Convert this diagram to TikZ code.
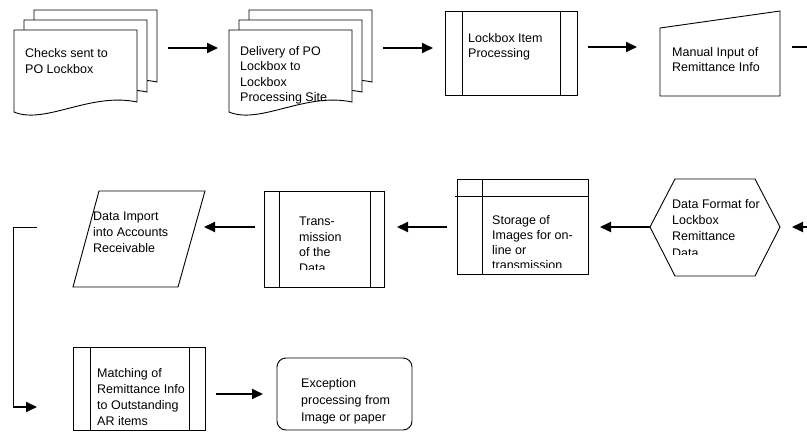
\documentclass[tikz,border=0pt]{standalone}
\usepackage{fontspec}
\setmainfont{Liberation Sans}
\usetikzlibrary{arrows.meta}
\begin{document}
\begin{tikzpicture}[x=1pt,y=-1pt,
  shp/.style={draw=black, line width=0.9pt, fill=white, line join=miter},
  bar/.style={draw=black, line width=0.9pt},
  lbl/.style={anchor=north west, inner sep=0pt, align=left, font=\fontsize{12.5}{16}\selectfont},
  arr/.style={line width=1.8pt, -{Triangle[length=11pt,width=10pt]}},
  thickln/.style={line width=1.8pt},
  thinln/.style={line width=0.9pt}]
\useasboundingbox (0,0) rectangle (807,432);

% ---- row 1 ----
% multi-document 1
\foreach \o in {20,10,0}{
  \draw[shp, shift={(\o,-\o)}] (14,30) -- (137,30) -- (137,102)
    .. controls (90,92) and (45,125) .. (14,112) -- cycle;
}
\node[lbl] (t1) at (25,48) {Checks sent to\\PO Lockbox};

% multi-document 2
\foreach \o in {20,10,0}{
  \draw[shp, shift={(215+\o,-\o)}] (14,30) -- (137,30) -- (137,102)
    .. controls (90,92) and (45,125) .. (14,112) -- cycle;
}
\node[lbl, font=\fontsize{12.5}{15.5}\selectfont] (t2) at (240,46) {Delivery of PO\\Lockbox to\\Lockbox\\Processing Site};

% predefined process
\draw[shp] (445,11) rectangle (577,95);
\draw[bar] (462,11) -- (462,95);
\draw[bar] (560,11) -- (560,95);
\node[lbl, font=\fontsize{12.5}{15}\selectfont] (t3) at (468,33) {Lockbox Item\\Processing};

% manual input
\draw[shp] (660,28) -- (780,11) -- (780,96) -- (660,96) -- cycle;
\node[lbl, font=\fontsize{12.5}{15}\selectfont] (t4) at (672,47) {Manual Input of\\Remittance Info};

% ---- row 2 ----
% hexagon
\draw[shp] (650,227) -- (675,179) -- (755,179) -- (780,227) -- (755,276) -- (675,276) -- cycle;
\begin{scope}
  \clip (660,180) rectangle (790,254);
  \node[lbl, font=\fontsize{12.5}{16.3}\selectfont] (t5) at (672,199) {Data Format for\\Lockbox\\Remittance\\Data};
\end{scope}

% internal storage
\draw[shp] (457,179) rectangle (588,274);
\draw[bar] (455,196) -- (588,196);
\draw[bar] (482,179) -- (482,274);
\begin{scope}
  \clip (485,200) rectangle (587,267);
  \node[lbl, font=\fontsize{12.5}{15.2}\selectfont] (t6) at (492,215) {Storage of\\Images for on-\\line or\\transmission};
\end{scope}

% transmission
\draw[shp] (264,191) rectangle (384,287);
\draw[bar] (279,191) -- (279,287);
\draw[bar] (370,191) -- (370,287);
\begin{scope}
  \clip (282,200) rectangle (368,269);
  \node[lbl, font=\fontsize{12.5}{15.5}\selectfont] (t7) at (299,217) {Trans-\\mission\\of the\\Data};
\end{scope}

% parallelogram
\draw[shp] (99,191) -- (205,191) -- (178,287) -- (73,287) -- cycle;
\node[lbl] (t8) at (93,212) {Data Import\\into Accounts\\Receivable};

% ---- row 3 ----
\draw[shp] (73,347) rectangle (205,430);
\node[lbl] (t9) at (97,368) {Matching of\\Remittance Info\\to Outstanding\\AR items};
\draw[bar] (90,347) -- (90,430);
\draw[bar] (189,347) -- (189,430);

\draw[shp, rounded corners=9pt] (277,358) rectangle (412,430);
\node[lbl, font=\fontsize{12.5}{17}\selectfont] (t10) at (301,378) {Exception\\processing from\\Image or paper};

% ---- connectors ----
\coordinate (a1s) at (168,48);  \coordinate (a1e) at (218,48);
\coordinate (a2s) at (383,48);  \coordinate (a2e) at (433,48);
\coordinate (a3s) at (588,47);  \coordinate (a3e) at (637,47);
\coordinate (a4s) at (792,47);  \coordinate (a4e) at (807,47);
\coordinate (b1s) at (807,227); \coordinate (b1e) at (792,227);
\coordinate (b2s) at (650,227); \coordinate (b2e) at (600,227);
\coordinate (b3s) at (447,227); \coordinate (b3e) at (397,227);
\coordinate (b4s) at (255,227); \coordinate (b4e) at (204,227);
\coordinate (c1s) at (37,227);  \coordinate (c1k) at (13,227);
\coordinate (c1m) at (13,407);  \coordinate (c1e) at (37,407);
\coordinate (d1s) at (216,394); \coordinate (d1e) at (263,394);

\draw[arr] (a1s) -- (a1e);
\draw[arr] (a2s) -- (a2e);
\draw[arr] (a3s) -- (a3e);
\draw[thickln] (a4s) -- (a4e);
\draw[arr] (b1s) -- (b1e);
\draw[arr] (b2s) -- (b2e);
\draw[arr] (b3s) -- (b3e);
\draw[arr] (b4s) -- (b4e);
\draw[thinln] (c1s) -- (c1k) -- (c1m);
\draw[arr] (c1m) -- (c1e);
\draw[arr] (d1s) -- (d1e);
\end{tikzpicture}
\end{document}
